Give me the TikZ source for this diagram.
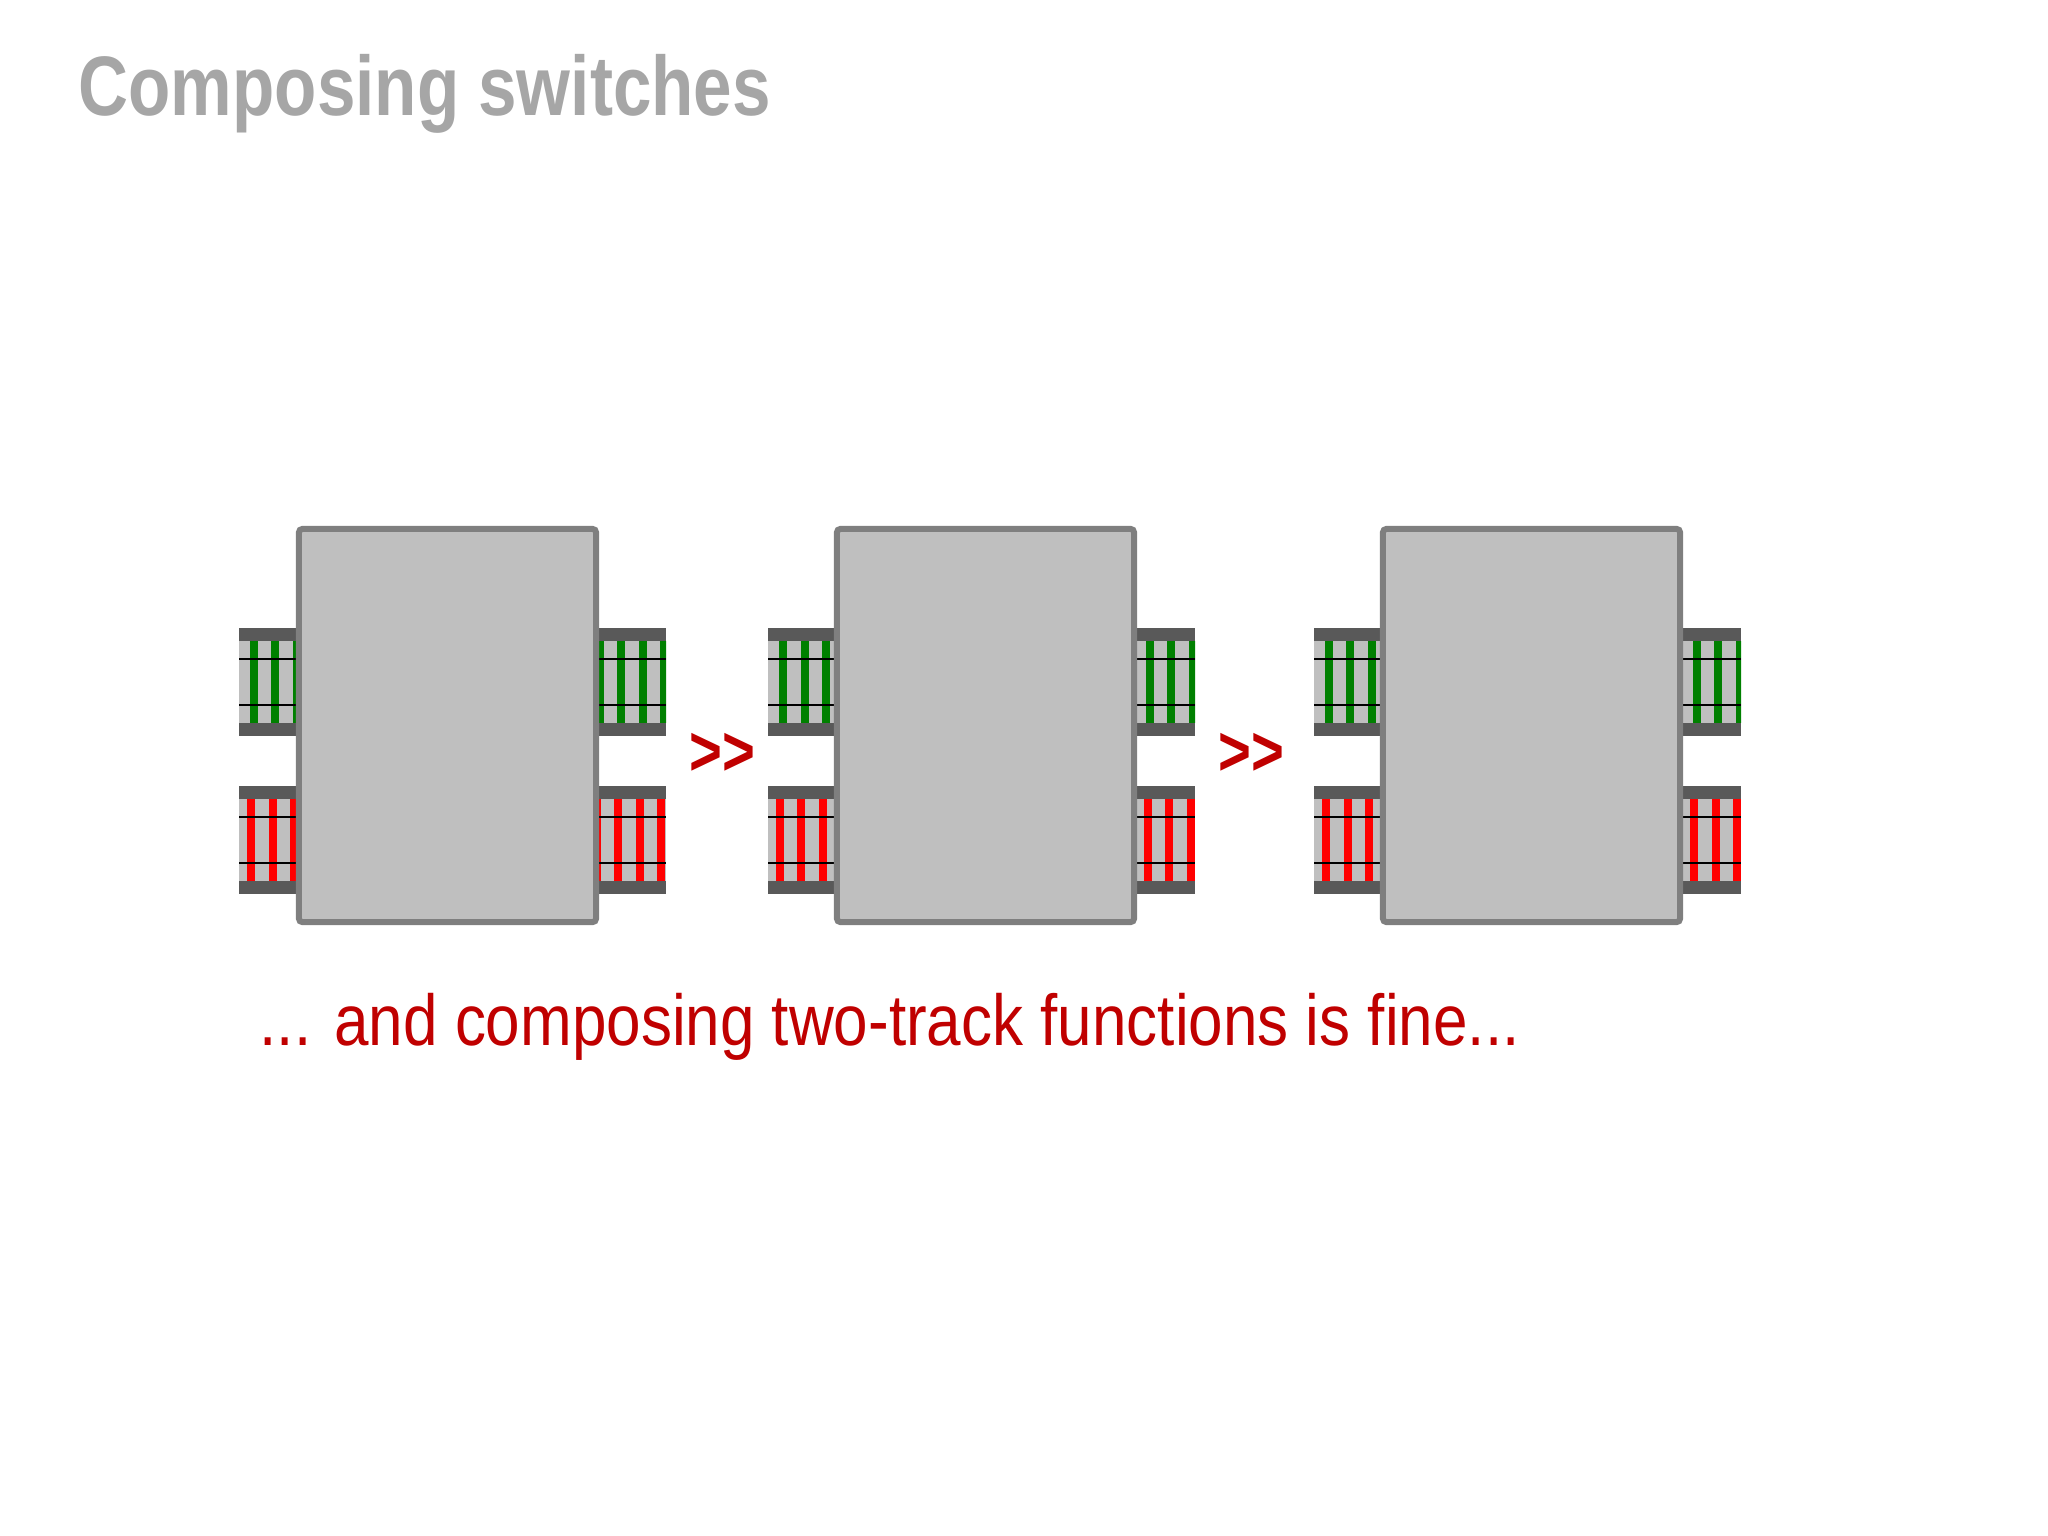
\documentclass[tikz,border=0pt]{standalone}
\usepackage{fontspec}
\usepackage{graphicx}
\setmainfont{Liberation Sans}
\usetikzlibrary{positioning}
\definecolor{titlegray}{HTML}{A6A6A6}
\definecolor{boxgray}{HTML}{BFBFBF}
\definecolor{boxedge}{HTML}{7F7F7F}
\definecolor{banddark}{HTML}{595959}
\definecolor{tiegreen}{HTML}{008000}
\definecolor{tiered}{HTML}{FF0000}
\definecolor{notered}{HTML}{C00000}
\tikzset{
  switchbox/.style ={draw=boxedge, fill=boxgray, line width=1.7pt, rounded corners=1pt,
                     minimum width=2.97cm, minimum height=3.93cm, inner sep=0pt},
  composeop/.style ={text=notered, font=\fontsize{20}{24}\selectfont\bfseries, inner sep=0pt},
  slidetitle/.style={text=titlegray, font=\fontsize{24}{28}\selectfont\bfseries,
                     anchor=base west, inner sep=0pt},
  note/.style      ={text=notered, font=\fontsize{20.5}{24}\selectfont,
                     anchor=base west, inner sep=0pt},
}
% one piece of track: x from, x to, top y, tie colour, first tie centre
\newcommand{\railtrack}[5]{%
  \begin{scope}
    \clip (#1,#3) rectangle (#2,#3+108);
    \fill[boxgray] (#1,#3) rectangle (#2,#3+108);
    \fill[banddark] (#1,#3) rectangle (#2,#3+13);
    \fill[banddark] (#1,#3+95) rectangle (#2,#3+108);
    \foreach \t in {0,...,4}
      \fill[#4] ({#5+21.6*\t-4},#3+13) rectangle ++(8,82);
    \draw[line width=0.7pt] (#1,#3+31) -- (#2,#3+31) (#1,#3+77) -- (#2,#3+77);
  \end{scope}}

\begin{document}
\begin{tikzpicture}[x=0.01cm, y=-0.01cm]
  \useasboundingbox (0,0) rectangle (2048,1536);
  \node[slidetitle] (title) at (78,115) {\scalebox{0.82}[1]{Composing switches}};

  % tracks (drawn first, the boxes sit on top)
  \railtrack{239}{299}{628}{tiegreen}{253.5}
  \railtrack{239}{299}{786}{tiered}{251}
  \railtrack{596}{666}{628}{tiegreen}{599.5}
  \railtrack{596}{666}{786}{tiered}{596.5}
  \railtrack{768}{837}{628}{tiegreen}{783}
  \railtrack{768}{837}{786}{tiered}{779.5}
  \railtrack{1134}{1195}{628}{tiegreen}{1128}
  \railtrack{1134}{1195}{786}{tiered}{1126}
  \railtrack{1314}{1383}{628}{tiegreen}{1328.5}
  \railtrack{1314}{1383}{786}{tiered}{1326}
  \railtrack{1680}{1741}{628}{tiegreen}{1675}
  \railtrack{1680}{1741}{786}{tiered}{1672.5}

  \node[switchbox] (sw1) at (447.5,725.5) {};
  \node[switchbox] (sw2) at (985.5,725.5) {};
  \node[switchbox] (sw3) at (1531.5,725.5) {};

  \node[composeop] (comp1) at (722,754) {\scalebox{0.8}[1]{>\kern0pt>}};
  \node[composeop] (comp2) at (1251,754) {\scalebox{0.8}[1]{>\kern0pt>}};

  \node[note] (remark) at (259,1045)
    {\scalebox{0.86}[1]{... and composing two-track functions is fine...}};
\end{tikzpicture}
\end{document}
